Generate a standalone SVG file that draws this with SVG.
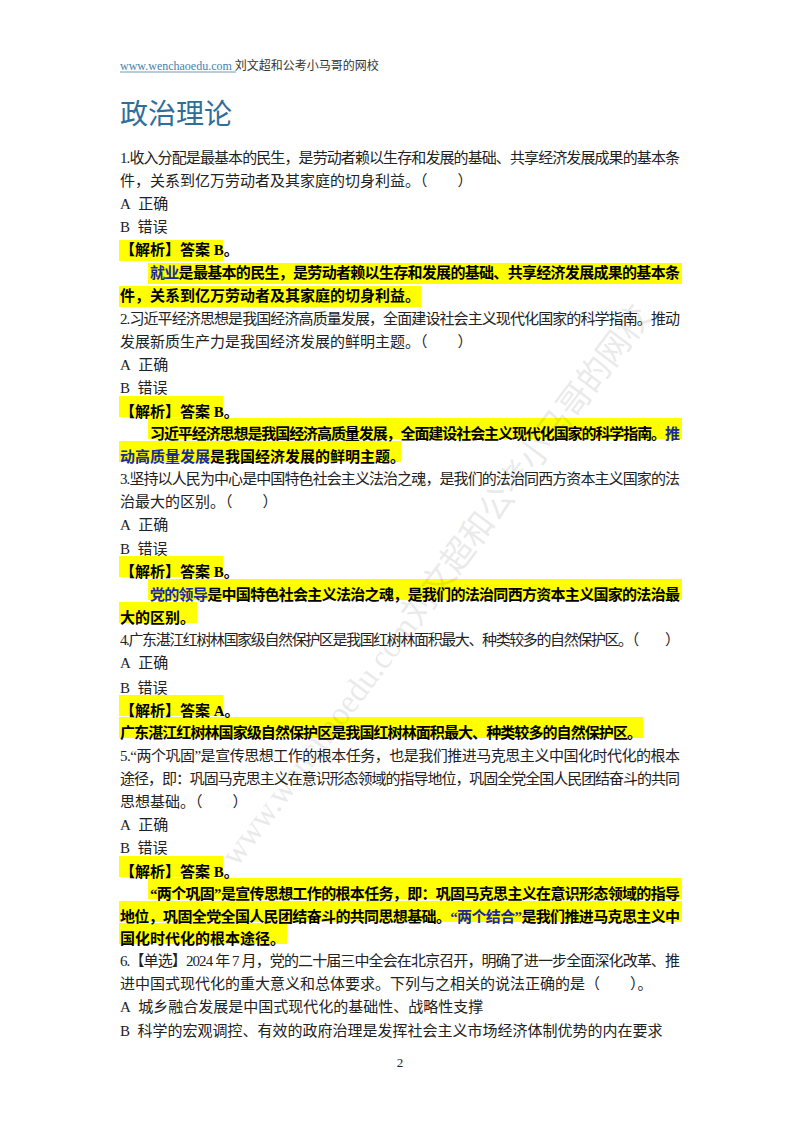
<svg xmlns="http://www.w3.org/2000/svg" width="800" height="1132" viewBox="0 0 800 1132">
<style>
text{font-family:"Liberation Serif","Noto Sans CJK SC",serif;font-size:15px;fill:#222}
.b{font-weight:bold;fill:#000}
.bl{fill:#1a2a9c}
.hl{fill:#ffff00}
.wm{font-size:34px;fill:#000;opacity:0.08}
</style>
<rect width="800" height="1132" fill="#fff"/>
<g id="header">
<text x="120" y="70" style="font-size:12px"><tspan fill="#4a7fa8">www.wenchaoedu.com </tspan><tspan fill="#333">刘文超和公考小马哥的网校</tspan></text>
<line x1="120" y1="72" x2="236" y2="72" stroke="#4a7fa8" stroke-width="0.8"/>
<text x="120" y="124" style="font-size:28px;fill:#2f6e9a">政治理论</text>
</g>
<g id="highlights">
<rect class="hl" x="119" y="240" width="104" height="21"/>
<rect class="hl" x="148" y="263" width="534" height="21"/>
<rect class="hl" x="119" y="286" width="302" height="21"/>
<rect class="hl" x="119" y="396" width="104" height="21"/>
<rect class="hl" x="148" y="418" width="534" height="21"/>
<rect class="hl" x="119" y="441" width="282" height="21"/>
<rect class="hl" x="119" y="556" width="104" height="21"/>
<rect class="hl" x="148" y="579" width="534" height="21"/>
<rect class="hl" x="119" y="602" width="78" height="21"/>
<rect class="hl" x="119" y="695" width="104" height="21"/>
<rect class="hl" x="119" y="717" width="524" height="21"/>
<rect class="hl" x="119" y="856" width="104" height="21"/>
<rect class="hl" x="148" y="878" width="534" height="21"/>
<rect class="hl" x="119" y="901" width="563" height="21"/>
<rect class="hl" x="119" y="923" width="168" height="21"/>
</g>
<g id="q1">
<text x="120" y="163" textLength="560" lengthAdjust="spacing">1.收入分配是最基本的民生，是劳动者赖以生存和发展的基础、共享经济发展成果的基本条</text>
<text x="120" y="186">件，关系到亿万劳动者及其家庭的切身利益。（　　）</text>
<text x="120" y="209">A&#160;&#160;正确</text>
<text x="120" y="232">B&#160;&#160;错误</text>
<text class="b" x="120" y="255">【解析】答案 B。</text>
<text class="b" x="150" y="278" textLength="530" lengthAdjust="spacing"><tspan class="bl">就业</tspan>是最基本的民生，是劳动者赖以生存和发展的基础、共享经济发展成果的基本条</text>
<text class="b" x="120" y="301">件，关系到亿万劳动者及其家庭的切身利益。</text>
</g>
<g id="q2">
<text x="120" y="324" textLength="560" lengthAdjust="spacing">2.习近平经济思想是我国经济高质量发展，全面建设社会主义现代化国家的科学指南。推动</text>
<text x="120" y="347">发展新质生产力是我国经济发展的鲜明主题。（　　）</text>
<text x="120" y="370">A&#160;&#160;正确</text>
<text x="120" y="393">B&#160;&#160;错误</text>
<text class="b" x="120" y="417">【解析】答案 B。</text>
<text class="b" x="150" y="439" textLength="530" lengthAdjust="spacing">习近平经济思想是我国经济高质量发展，全面建设社会主义现代化国家的科学指南。<tspan class="bl">推</tspan></text>
<text class="b" x="120" y="462"><tspan class="bl">动高质量发展</tspan>是我国经济发展的鲜明主题。</text>
</g>
<g id="q3">
<text x="120" y="484" textLength="560" lengthAdjust="spacing">3.坚持以人民为中心是中国特色社会主义法治之魂，是我们的法治同西方资本主义国家的法</text>
<text x="120" y="507">治最大的区别。（　　）</text>
<text x="120" y="530">A&#160;&#160;正确</text>
<text x="120" y="554">B&#160;&#160;错误</text>
<text class="b" x="120" y="577">【解析】答案 B。</text>
<text class="b" x="150" y="600" textLength="530" lengthAdjust="spacing"><tspan class="bl">党的领导</tspan>是中国特色社会主义法治之魂，是我们的法治同西方资本主义国家的法治最</text>
<text class="b" x="120" y="623">大的区别。</text>
</g>
<g id="q4">
<text x="120" y="645" textLength="560" lengthAdjust="spacing">4.广东湛江红树林国家级自然保护区是我国红树林面积最大、种类较多的自然保护区。（　　）</text>
<text x="120" y="668">A&#160;&#160;正确</text>
<text x="120" y="693">B&#160;&#160;错误</text>
<text class="b" x="120" y="716">【解析】答案 A。</text>
<text class="b" x="120" y="738" textLength="522" lengthAdjust="spacing">广东湛江红树林国家级自然保护区是我国红树林面积最大、种类较多的自然保护区。</text>
</g>
<g id="q5">
<text x="120" y="761" textLength="560" lengthAdjust="spacing">5.“两个巩固”是宣传思想工作的根本任务，也是我们推进马克思主义中国化时代化的根本</text>
<text x="120" y="784" textLength="560" lengthAdjust="spacing">途径，即：巩固马克思主义在意识形态领域的指导地位，巩固全党全国人民团结奋斗的共同</text>
<text x="120" y="807">思想基础。（　　）</text>
<text x="120" y="830">A&#160;&#160;正确</text>
<text x="120" y="853">B&#160;&#160;错误</text>
<text class="b" x="120" y="877">【解析】答案 B。</text>
<text class="b" x="150" y="899" textLength="530" lengthAdjust="spacing">“两个巩固”是宣传思想工作的根本任务，即：巩固马克思主义在意识形态领域的指导</text>
<text class="b" x="120" y="922" textLength="560" lengthAdjust="spacing">地位，巩固全党全国人民团结奋斗的共同思想基础。<tspan class="bl">“两个结合”</tspan>是我们推进马克思主义中</text>
<text class="b" x="120" y="944">国化时代化的根本途径。</text>
</g>
<g id="q6">
<text x="120" y="966" textLength="560" lengthAdjust="spacing">6.【单选】2024 年 7 月，党的二十届三中全会在北京召开，明确了进一步全面深化改革、推</text>
<text x="120" y="989">进中国式现代化的重大意义和总体要求。下列与之相关的说法正确的是（　　）。</text>
<text x="120" y="1012">A&#160;&#160;城乡融合发展是中国式现代化的基础性、战略性支撑</text>
<text x="120" y="1036">B&#160;&#160;科学的宏观调控、有效的政府治理是发挥社会主义市场经济体制优势的内在要求</text>
</g>
<text x="400" y="1067" text-anchor="middle" style="font-size:13px">2</text>
<text class="wm" x="435" y="597" text-anchor="middle" textLength="690" lengthAdjust="spacingAndGlyphs" transform="rotate(-53 435 585)">www.wenchaoedu.com刘文超和公考小马哥的网校</text>
</svg>
